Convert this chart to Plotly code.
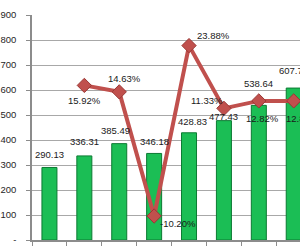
import plotly.graph_objects as go

categories = ["1", "2", "3", "4", "5", "6", "7", "8"]
values = [290.13, 336.31, 385.49, 346.18, 428.83, 477.43, 538.64, 607.71]
growth = [None, 15.92, 14.63, -10.20, 23.88, 11.33, 12.82, 12.82]
value_labels = ["290.13", "336.31", "385.49", "346.18", "428.83", "477.43", "538.64", "607.71"]
growth_labels = ["", "15.92%", "14.63%", "-10.20%", "23.88%", "11.33%", "12.82%", "12.82%"]
y_ticks = [0, 100, 200, 300, 400, 500, 600, 700, 800, 900]
y_tick_text = ["-", "100", "200", "300", "400", "500", "600", "700", "800", "900"]

# label offsets (px) relative to the mark
bar_label_shift = [(0, 13), (0, 14), (-4, 13), (0, 12), (3, 11), (0, 4), (0, 22), (0, 18)]
pct_label_shift = [(0, 0), (0, -15), (5, 13), (24, -7), (24, 10), (-17, 8), (4, -18), (9, -18)]

FONT = "Liberation Sans, Arial, sans-serif"

fig = go.Figure()
fig.add_trace(go.Bar(
    x=categories, y=values,
    marker=dict(color="#1BBE55", line=dict(color="#0B7A32", width=1)),
    width=0.43, showlegend=False, hoverinfo="skip",
))
fig.add_trace(go.Scatter(
    x=categories, y=growth, yaxis="y2", mode="lines+markers",
    line=dict(color="#C0504D", width=4),
    marker=dict(symbol="diamond", size=11, color="#C0504D",
                line=dict(color="#9A3734", width=1)),
    showlegend=False, hoverinfo="skip", connectgaps=False,
))

annotations = []
for i, (v, t, (dx, dy)) in enumerate(zip(values, value_labels, bar_label_shift)):
    annotations.append(dict(x=i, y=v, xref="x", yref="y", text=t, showarrow=False,
                            xshift=dx, yshift=dy, yanchor="middle",
                            font=dict(family=FONT, size=9.5, color="#1A1A1A")))
for i, (g, t, (dx, dy)) in enumerate(zip(growth, growth_labels, pct_label_shift)):
    if g is None:
        continue
    annotations.append(dict(x=i, y=g, xref="x", yref="y2", text=t, showarrow=False,
                            xshift=dx, yshift=dy, yanchor="middle",
                            font=dict(family=FONT, size=9.5, color="#1A1A1A")))

fig.update_layout(
    width=300, height=250,
    margin=dict(l=32, r=0, t=15, b=10),
    paper_bgcolor="white", plot_bgcolor="white",
    font=dict(family=FONT, size=9.5, color="#333333"),
    xaxis=dict(type="category", range=[-0.5, 7.18], showgrid=False,
               showline=True, linecolor="#8C8C8C", linewidth=1.5,
               ticks="outside", tickson="boundaries", ticklen=4, tickcolor="#8C8C8C",
               showticklabels=False),
    yaxis=dict(range=[0, 900], tickvals=y_ticks, ticktext=y_tick_text,
               showgrid=True, gridcolor="#A8A8A8", gridwidth=1,
               showline=True, linecolor="#8C8C8C", linewidth=1.5,
               ticks="outside", ticklen=4, tickcolor="#8C8C8C",
               ticklabelstandoff=8, zeroline=False,
               tickfont=dict(family=FONT, size=9.5, color="#262626")),
    yaxis2=dict(range=[-15, 30], overlaying="y", side="right", visible=False,
                showgrid=False, zeroline=False),
    annotations=annotations,
    bargap=0.57,
)

fig.write_html("out.html")
